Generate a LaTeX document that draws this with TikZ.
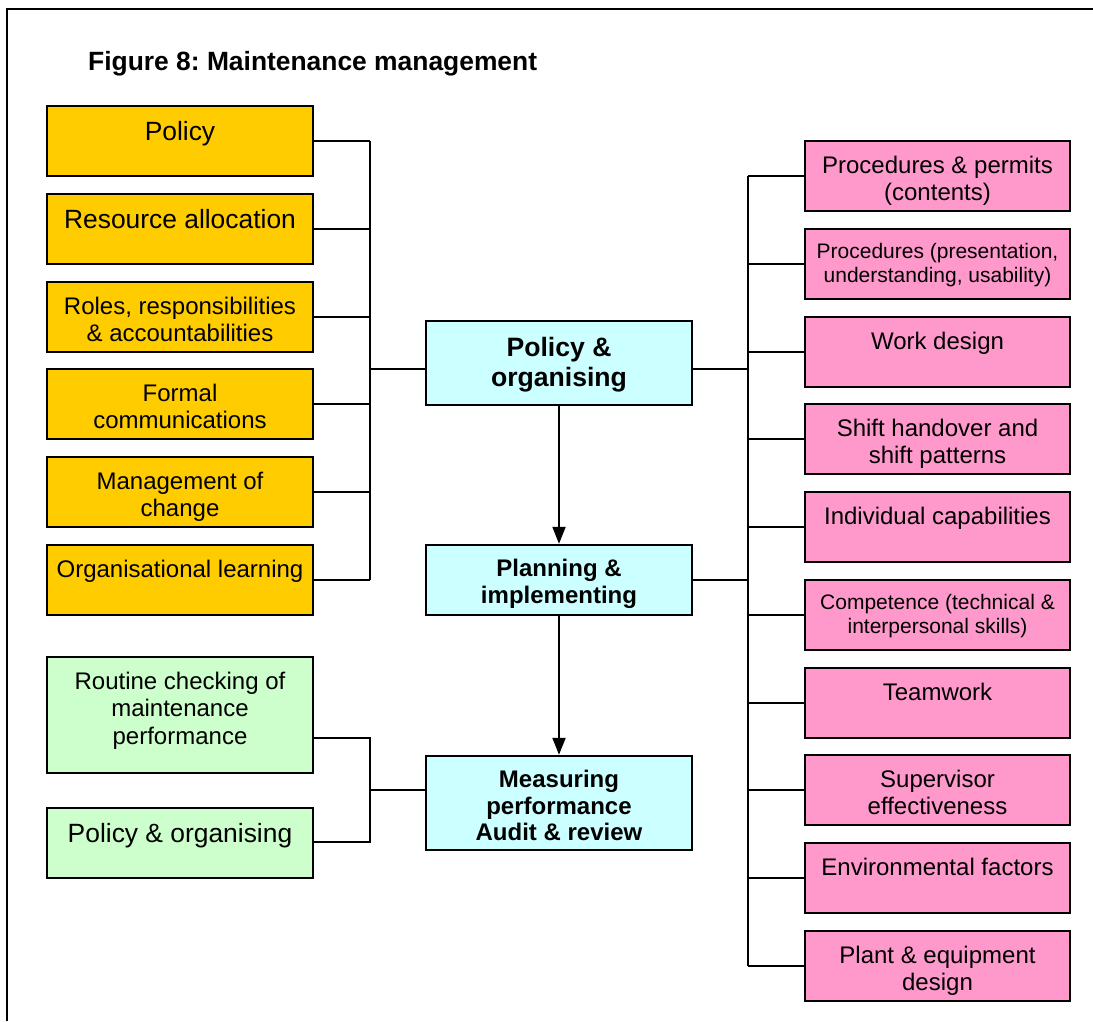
\documentclass[tikz,border=0pt]{standalone}
\usepackage{fontspec}
\setmainfont{Liberation Sans}
\usetikzlibrary{arrows.meta}
\frenchspacing
\definecolor{orangebox}{HTML}{FFCC00}
\definecolor{cyanbox}{HTML}{CCFFFF}
\definecolor{pinkbox}{HTML}{FF99CC}
\definecolor{greenbox}{HTML}{CCFFCC}
\newcommand{\fbig}{\fontsize{26.4}{28}\selectfont}
\newcommand{\fmid}{\fontsize{24}{27.2}\selectfont}
\newcommand{\fsmall}{\fontsize{21}{23.5}\selectfont}
\tikzset{
  box/.style={draw=black, line width=2.4pt, minimum width=266pt, inner xsep=0pt, inner ysep=0pt,
    text width=262pt, align=flush center, font=\fmid, text height=32pt, text depth=38pt},
  bigtext/.style={font=\fbig, text height=34.5pt, text depth=35.5pt},
  smalltext/.style={font=\fsmall, text height=29.6pt, text depth=40.4pt},
  obox/.style={box, fill=orangebox},
  cbox/.style={box, fill=cyanbox, font=\fmid\bfseries, text height=31.6pt, text depth=38.4pt},
  pbox/.style={box, fill=pinkbox, minimum width=265pt},
  gbox/.style={box, fill=greenbox},
  conn/.style={draw=black, line width=2pt},
  arr/.style={conn, -{Triangle[length=17pt,width=13pt]}},
}
\begin{document}
\begin{tikzpicture}[x=1pt,y=-1pt]
\useasboundingbox (0,0) rectangle (1093,1021);
% frame
\draw[line width=2pt] (7,1021) -- (7,9.3) -- (1093,9.3);
% title
\node[anchor=base west, inner sep=0pt, font=\fontsize{26.4}{30}\selectfont\bfseries] (title) at (88,70.5) {Figure 8: Maintenance management};

% left orange boxes
\node[obox, bigtext] (o1) at (180,141) {Policy};
\node[obox, bigtext] (o2) at (180,229) {Resource allocation};
\node[obox] (o3) at (180,317) {Roles, responsibilities\\\& accountabilities};
\node[obox] (o4) at (180,404) {Formal\\communications};
\node[obox] (o5) at (180,492) {Management of\\change};
\node[obox] (o6) at (180,580) {Organisational learning};

% green boxes
\node[gbox, text depth=84pt, font=\fontsize{24}{27.5}\selectfont] (g1) at (180,715) {Routine checking of\\maintenance\\performance};
\node[gbox, bigtext] (g2) at (180,843) {Policy \& organising};

% centre boxes
\node[cbox, font=\fontsize{26.6}{30}\selectfont\bfseries, text height=35.6pt, text depth=48.4pt] (po) at (559,363) {Policy \&\\organising};
\node[cbox] (pl) at (559,580) {Planning \&\\implementing};
\node[cbox, font=\fontsize{24}{26.5}\selectfont\bfseries, text depth=62.4pt] (mp) at (559,803) {Measuring\\performance\\Audit \& review};

% right pink boxes
\node[pbox] (p1) at (937.5,176) {Procedures \& permits\\(contents)};
\node[pbox, smalltext] (p2) at (937.5,264) {Procedures (presentation,\\understanding, usability)};
\node[pbox] (p3) at (937.5,352) {Work design};
\node[pbox] (p4) at (937.5,439) {Shift handover and\\shift patterns};
\node[pbox] (p5) at (937.5,527) {Individual capabilities};
\node[pbox, smalltext] (p6) at (937.5,615) {Competence (technical \&\\interpersonal skills)};
\node[pbox] (p7) at (937.5,703) {Teamwork};
\node[pbox] (p8) at (937.5,790) {Supervisor\\effectiveness};
\node[pbox] (p9) at (937.5,878) {Environmental factors};
\node[pbox] (p10) at (937.5,966) {Plant \& equipment\\design};

% bus coordinates
\coordinate (lb) at (370,369);
\coordinate (rb) at (748,369);
\coordinate (gb) at (370,790);
\coordinate (rb2) at (748,580);

% orange connectors
\foreach \n in {o1,o2,o3,o4,o5,o6}{
  \draw[conn] (\n.east) -- (\n.east -| lb);
}
\draw[conn] (o1.east -| lb) -- (o6.east -| lb);
\draw[conn] (lb) -- (lb -| po.west);

% green connectors
\draw[conn] (g1.east |- 0,738) -- (lb |- 0,738) -- (lb |- 0,842) -- (g2.east |- 0,842);
\draw[conn] (gb) -- (gb -| mp.west);

% centre arrows
\draw[arr] (po.south) -- (pl.north);
\draw[arr] (pl.south) -- (mp.north);

% right connectors
\draw[conn] (rb -| po.east) -- (rb);
\draw[conn] (pl.east |- rb2) -- (rb2);
\foreach \n in {p1,p2,p3,p4,p5,p6,p7,p8,p9,p10}{
  \draw[conn] (\n.west) -- (\n.west -| rb);
}
\draw[conn] (p1.west -| rb) -- (p10.west -| rb);
\end{tikzpicture}
\end{document}
